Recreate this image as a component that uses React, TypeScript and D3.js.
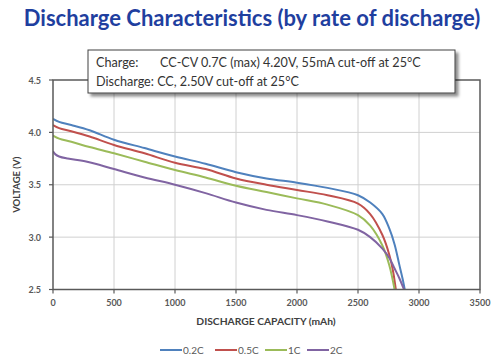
import React from "react";
import * as d3 from "d3";

const seriesNames = ["0.2C", "0.5C", "1C", "2C"];
const seriesColors = ["#4F81BD", "#C0504D", "#9BBB59", "#8064A2"];

const cap02 = [0, 50, 150, 300, 500, 750, 1000, 1250, 1500, 1750, 2000, 2250, 2500, 2600, 2700, 2757, 2800, 2838, 2866, 2883];
const volt02 = [4.13, 4.10, 4.07, 4.02, 3.93, 3.85, 3.77, 3.70, 3.62, 3.56, 3.52, 3.47, 3.40, 3.33, 3.22, 3.08, 2.93, 2.74, 2.60, 2.50];

const cap05 = [0, 50, 150, 300, 500, 750, 1000, 1250, 1500, 1750, 2000, 2250, 2500, 2600, 2700, 2757, 2788, 2810];
const volt05 = [4.07, 4.04, 4.01, 3.96, 3.88, 3.80, 3.71, 3.65, 3.56, 3.50, 3.45, 3.40, 3.32, 3.22, 3.02, 2.83, 2.67, 2.50];

const cap1 = [0, 50, 150, 300, 500, 750, 1000, 1250, 1500, 1750, 2000, 2250, 2500, 2600, 2700, 2757, 2800];
const volt1 = [3.97, 3.94, 3.91, 3.86, 3.80, 3.72, 3.64, 3.57, 3.49, 3.43, 3.37, 3.31, 3.21, 3.11, 2.92, 2.73, 2.50];

const cap2 = [0, 20, 50, 120, 280, 500, 750, 1000, 1250, 1500, 1750, 2000, 2250, 2500, 2600, 2700, 2757, 2800, 2838, 2877];
const volt2 = [3.82, 3.79, 3.77, 3.75, 3.72, 3.65, 3.57, 3.50, 3.42, 3.33, 3.26, 3.21, 3.15, 3.07, 3.00, 2.89, 2.80, 2.70, 2.61, 2.50];

const xTicks = [0, 500, 1000, 1500, 2000, 2500, 3000, 3500];
const yTicks = [2.5, 3.0, 3.5, 4.0, 4.5];

const titleText = "Discharge Characteristics (by rate of discharge)";
const chargeLabel = "Charge:";
const chargeText = "CC-CV 0.7C (max) 4.20V, 55mA cut-off at 25°C";
const dischargeText = "Discharge: CC, 2.50V cut-off at 25°C";
const xTitle = "DISCHARGE CAPACITY (mAh)";
const yTitle = "VOLTAGE (V)";

const W = 502, H = 360;
const L = 53, R = 480, T = 80, B = 289.5;
const FONT = "Lato, 'Open Sans', sans-serif";

export default function App() {
  const x = d3.scaleLinear().domain([0, 3500]).range([L, R]);
  const y = d3.scaleLinear().domain([2.5, 4.5]).range([B, T]);
  const line = d3
    .line<[number, number]>()
    .x((d) => x(d[0]))
    .y((d) => y(d[1]))
    .curve(d3.curveCatmullRom.alpha(0.5));

  const caps = [cap02, cap05, cap1, cap2];
  const volts = [volt02, volt05, volt1, volt2];
  const series = caps.map((c, i) => c.map((v, j) => [v, volts[i][j]] as [number, number]));

  const legendX = [160, 215, 265, 307];

  return (
    <svg width={W} height={H} style={{ position: "absolute", left: 0, top: 0, background: "#fff" }}>
      <defs>
        <filter id="sh" x="-10%" y="-30%" width="130%" height="170%">
          <feDropShadow dx="3" dy="3" stdDeviation="1.5" floodColor="#000" floodOpacity="0.45" />
        </filter>
        <clipPath id="clip">
          <rect x={L} y={T - 5} width={R - L} height={B - T + 5} />
        </clipPath>
      </defs>
      <rect width={W} height={H} fill="#fff" />
      <text x={252} y={26} textAnchor="middle" fontFamily={FONT} fontWeight={700} fontSize={22} fill="#1F3F9F">
        {titleText}
      </text>

      {xTicks.slice(1, -1).map((t) => (
        <line key={"gx" + t} x1={x(t)} x2={x(t)} y1={T} y2={B} stroke="#d0d0d0" strokeWidth={1} />
      ))}
      {yTicks.slice(1, -1).map((t) => (
        <line key={"gy" + t} x1={L} x2={R} y1={y(t)} y2={y(t)} stroke="#d0d0d0" strokeWidth={1} />
      ))}

      <g clipPath="url(#clip)">
        {series.map((s, i) => (
          <path key={i} d={line(s) || ""} fill="none" stroke={seriesColors[i]} strokeWidth={2} />
        ))}
      </g>

      <rect x={L} y={T} width={R - L} height={B - T} fill="none" stroke="#595959" strokeWidth={1.5} />
      {yTicks.map((t) => (
        <line key={"ty" + t} x1={L - 4} x2={L} y1={y(t)} y2={y(t)} stroke="#595959" strokeWidth={1.2} />
      ))}
      {xTicks.map((t) => (
        <line key={"tx" + t} x1={x(t)} x2={x(t)} y1={B} y2={B + 4} stroke="#595959" strokeWidth={1.2} />
      ))}

      {yTicks.map((t) => (
        <text key={"ly" + t} x={41} y={y(t) + 3.5} textAnchor="end" fontFamily={FONT} fontWeight={700} fontSize={9} fill="#595959">
          {d3.format(".1f")(t)}
        </text>
      ))}
      {xTicks.map((t) => (
        <text key={"lx" + t} x={x(t)} y={306} textAnchor="middle" fontFamily={FONT} fontWeight={700} fontSize={9} fill="#595959">
          {t}
        </text>
      ))}

      <text x={266} y={325} textAnchor="middle" fontFamily={FONT} fontWeight={700} fontSize={10.3} fill="#404040">
        {xTitle}
      </text>
      <text transform={`translate(20,${(T + B) / 2}) rotate(-90)`} textAnchor="middle" fontFamily={FONT} fontWeight={700} fontSize={9.5} fill="#404040">
        {yTitle}
      </text>

      <rect x={88} y={50} width={367} height={43} fill="#fff" stroke="#404040" strokeWidth={1} filter="url(#sh)" />
      <text x={96} y={67} fontFamily={FONT} fontSize={12.6} fill="#333">{chargeLabel}</text>
      <text x={160} y={67} fontFamily={FONT} fontSize={12.6} fill="#333">{chargeText}</text>
      <text x={96} y={86} fontFamily={FONT} fontSize={12.6} fill="#333">{dischargeText}</text>

      {seriesNames.map((n, i) => (
        <g key={n}>
          <line x1={legendX[i]} x2={legendX[i] + 22} y1={350} y2={350} stroke={seriesColors[i]} strokeWidth={2} />
          <text x={legendX[i] + 23} y={353.5} fontFamily={FONT} fontSize={10} fill="#595959">{n}</text>
        </g>
      ))}
    </svg>
  );
}
